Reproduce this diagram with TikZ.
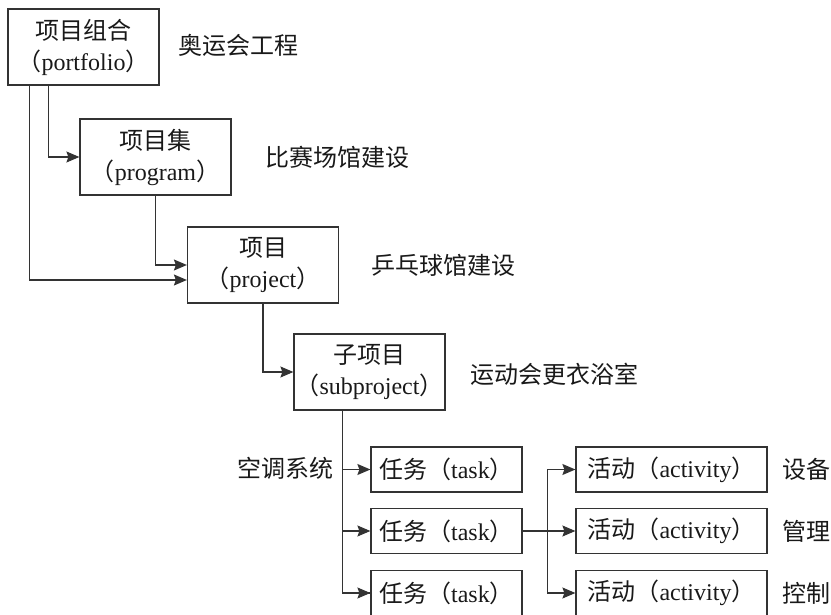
\documentclass[tikz,border=0pt]{standalone}
\usepackage{fontspec}
\setmainfont{Liberation Serif}
\newfontfamily\cjk[Scale=1.0]{Noto Sans CJK SC}
\usetikzlibrary{arrows.meta}
\newcommand{\zh}[1]{{\cjk #1}}
\begin{document}
\begin{tikzpicture}[x=1pt,y=-1pt,
  every node/.style={font=\fontsize{24}{31}\selectfont, text=black!90},
  box/.style={draw=black!80, line width=1.2pt, inner sep=0pt, align=center},
  tall/.style={box, minimum width=151pt, minimum height=76pt},
  taskbox/.style={box, minimum width=151pt, minimum height=45pt},
  actbox/.style={box, minimum width=191pt, minimum height=45pt},
  note/.style={inner sep=0pt},
  link/.style={draw=black!80, line width=1.1pt, -{Stealth[length=13pt,width=11pt,inset=2pt]}},
  plain/.style={draw=black!80, line width=1.1pt}]
\useasboundingbox (0,0) rectangle (831,614);
\clip (0,0) rectangle (831,614);

% hierarchy boxes
\node[tall] (pf) at (83.5,47) {\zh{项目组合}\\\zh{（}portfolio\zh{）}};
\node[tall] (pg) at (155.5,157) {\zh{项目集}\\\zh{（}program\zh{）}};
\node[tall] (pj) at (263,265) {\zh{项目}\\\zh{（}project\zh{）}};
\node[tall] (sp) at (369.5,372) {\zh{子项目}\\\zh{（}subproject\zh{）}};

% tasks
\node[taskbox] (t1) at (446.5,469.5) {\zh{任务（}task\zh{）}};
\node[taskbox] (t2) at (446.5,531) {\zh{任务（}task\zh{）}};
\node[taskbox] (t3) at (446.5,593) {\zh{任务（}task\zh{）}};

% activities
\node[actbox] (a1) at (671.5,469.5) {\zh{活动（}activity\zh{）}};
\node[actbox] (a2) at (671.5,531) {\zh{活动（}activity\zh{）}};
\node[actbox] (a3) at (671.5,593) {\zh{活动（}activity\zh{）}};

% example labels
\node[note, anchor=west] (l1) at (178,45) {\zh{奥运会工程}};
\node[note, anchor=west] (l2) at (265,157) {\zh{比赛场馆建设}};
\node[note, anchor=west] (l3) at (371,265) {\zh{乒乓球馆建设}};
\node[note, anchor=west] (l4) at (470,374) {\zh{运动会更衣浴室}};
\node[note, anchor=east] (l5) at (334,468) {\zh{空调系统}};
\node[note, anchor=west] (l6) at (782,469) {\zh{设备}};
\node[note, anchor=west] (l7) at (782,531) {\zh{管理}};
\node[note, anchor=west] (l8) at (782,593) {\zh{控制}};

% connectors between levels
\draw[link] ([xshift=41pt]pf.south west) |- (pg.west);
\draw[link] ([xshift=22pt]pf.south west) |- ([yshift=-15pt]pj.west);
\draw[link] (pg.south) |- (pj.west);
\draw[link] (pj.south) |- (sp.west);

\coordinate (sb) at ([xshift=49.5pt]sp.south west);
\draw[plain] (sb) |- (t3.west);
\draw[link] (sb |- t1.west) -- (t1.west);
\draw[link] (sb |- t2.west) -- (t2.west);
\draw[link] (sb |- t3.west) -- (t3.west);

\coordinate (ab) at ([xshift=-28pt]a2.west);
\draw[link] (t2.east) -- (a2.west);
\draw[plain] (ab |- a1.west) -- (ab |- a3.west);
\draw[link] (ab |- a1.west) -- (a1.west);
\draw[link] (ab |- a3.west) -- (a3.west);
\end{tikzpicture}
\end{document}
